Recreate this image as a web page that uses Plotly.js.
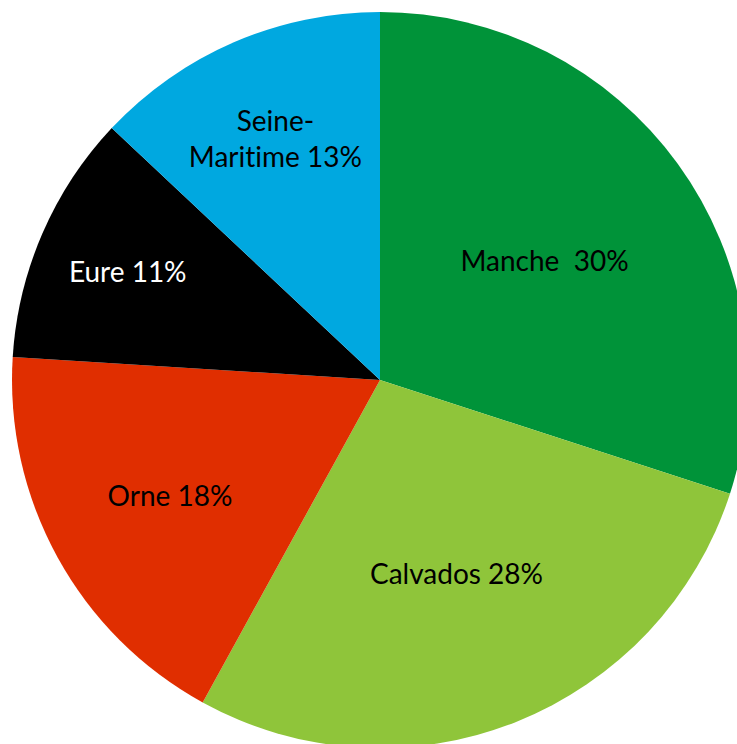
<!DOCTYPE html>
<html><head><meta charset="utf-8">
<script src="https://cdn.plot.ly/plotly-3.0.1.min.js"></script>
<style>html,body{margin:0;padding:0;overflow:hidden;background:#fff;width:737px;height:744px}
svg text{font-variant-ligatures:none;font-feature-settings:"liga" 0;}</style>
</head><body><div id="chart"></div>
<script>
const labels = ["Manche", "Calvados", "Orne", "Eure", "Seine-Maritime"];
const values = [30, 28, 18, 11, 13];
const textLabels = ["Manche  30%", "Calvados 28%", "Orne 18%", "Eure 11%", "Seine-<br>Maritime 13%"];
const colors = ["#009339", "#8fc53a", "#e02e00", "#000000", "#00a8e0"];
const textColors = ["#000000", "#000000", "#000000", "#ffffff", "#000000"];

Plotly.newPlot("chart", [{
  type: "pie",
  labels: labels,
  values: values,
  text: textLabels,
  textinfo: "text",
  textposition: "inside",
  insidetextorientation: "horizontal",
  sort: false,
  direction: "clockwise",
  rotation: 0,
  marker: {colors: colors, line: {width: 0}},
  textfont: {family: "Lato, 'Open Sans', sans-serif", size: 28, color: textColors},
  hoverinfo: "none"
}], {
  width: 760, height: 760,
  margin: {l: 12, r: 12, t: 12, b: 12},
  showlegend: false,
  paper_bgcolor: "#fff"
}, {staticPlot: true, displayModeBar: false});
</script></body></html>
